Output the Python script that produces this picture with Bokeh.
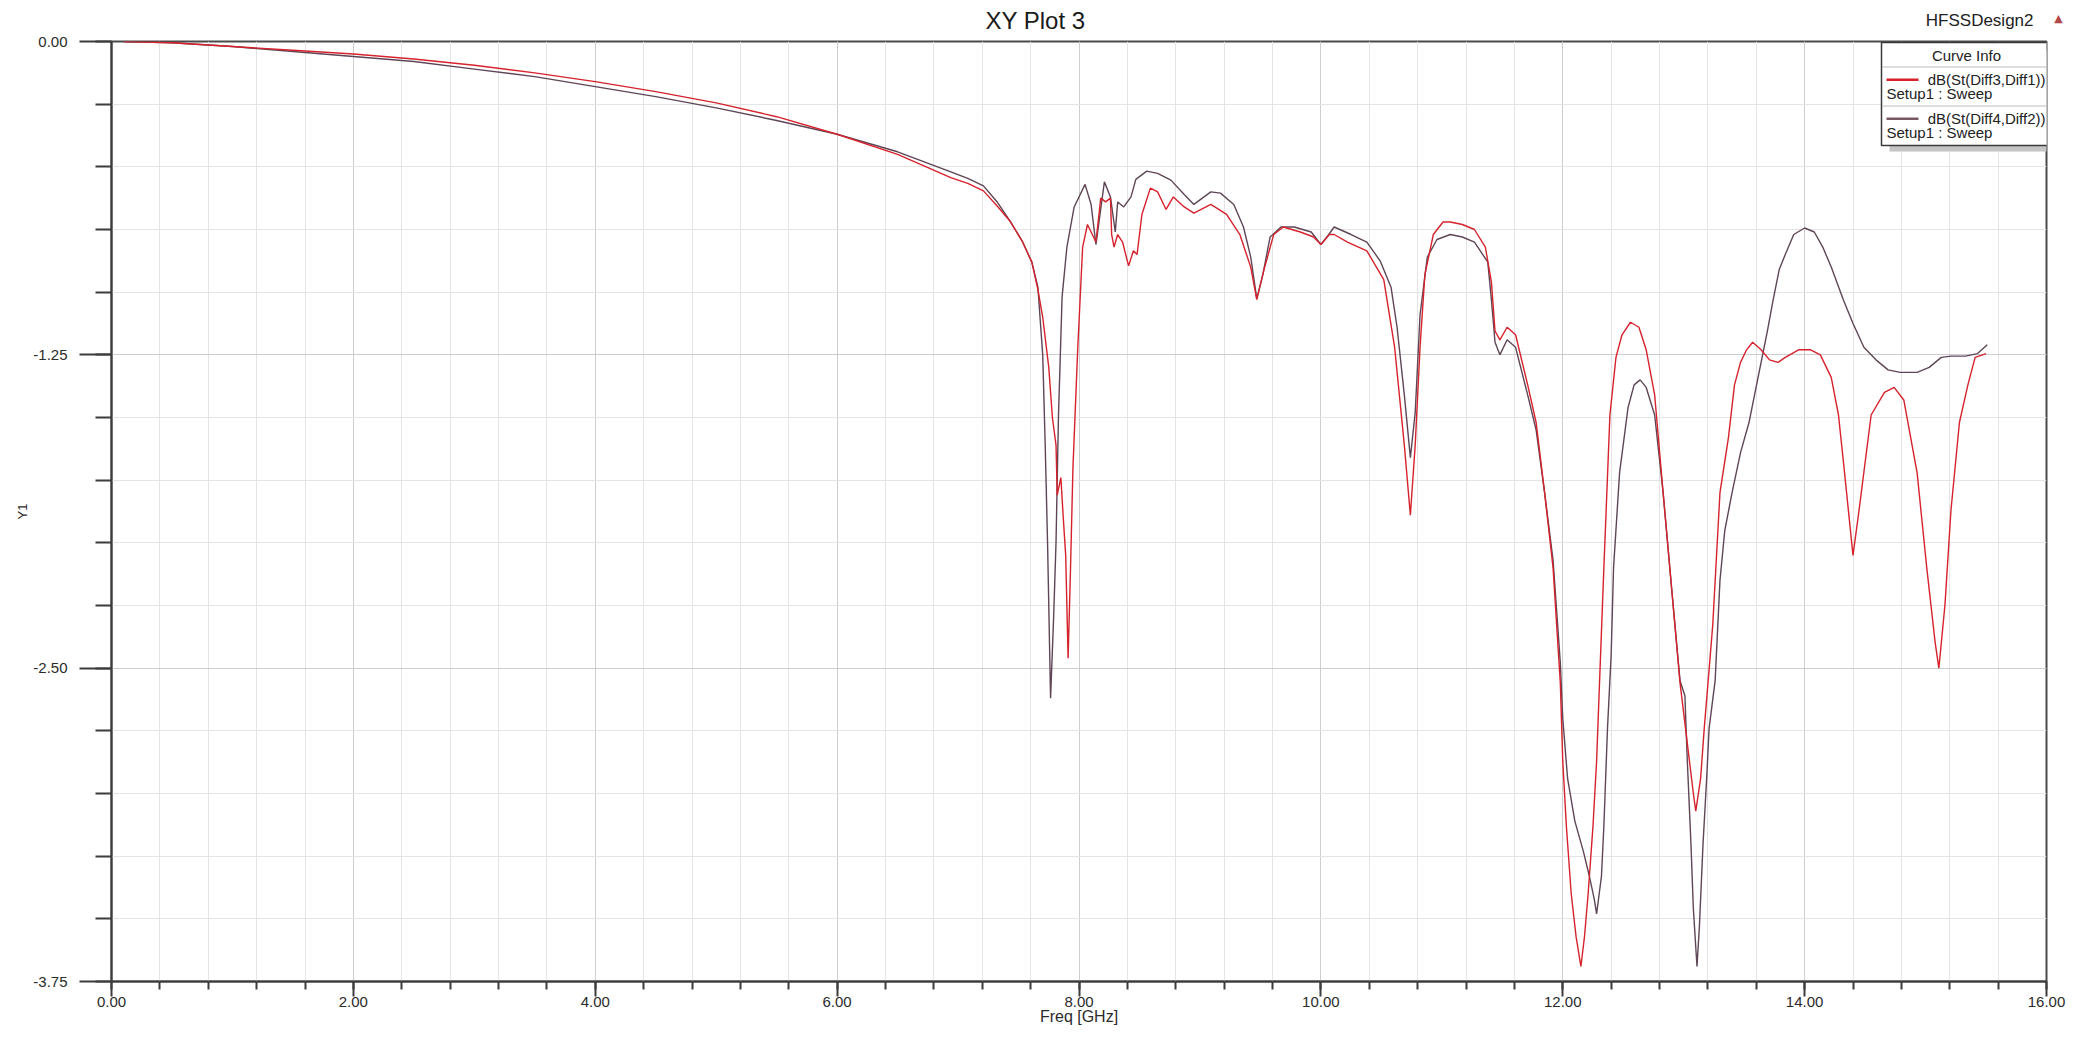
import math
from bokeh.plotting import figure
from bokeh.models import Range1d, FixedTicker, PrintfTickFormatter, Label, BoxAnnotation, Title
from bokeh.embed import file_html
from bokeh.resources import INLINE

# ---------------- data ----------------
freq_31 = [0.10, 0.5, 1.0, 1.5, 2.0, 2.5, 3.0, 3.5, 4.0, 4.5, 5.0, 5.5, 6.0, 6.5, 6.94,
           7.08, 7.21, 7.32, 7.43, 7.53, 7.61, 7.66, 7.70, 7.75, 7.78, 7.81, 7.82, 7.85,
           7.87, 7.89, 7.91, 7.93, 7.95, 7.99, 8.03, 8.07, 8.11, 8.14, 8.18, 8.22, 8.26,
           8.27, 8.29, 8.32, 8.36, 8.41, 8.45, 8.48, 8.52, 8.59, 8.65, 8.72, 8.78, 8.87,
           8.95, 9.09, 9.22, 9.33, 9.42, 9.47, 9.53, 9.61, 9.69, 9.83, 9.94, 10.0, 10.07,
           10.11, 10.22, 10.38, 10.52, 10.61, 10.69, 10.74, 10.78, 10.82, 10.86, 10.93,
           11.01, 11.07, 11.17, 11.27, 11.36, 11.41, 11.44, 11.48, 11.54, 11.61, 11.71,
           11.78, 11.85, 11.92, 11.98, 12.0, 12.03, 12.07, 12.11, 12.15, 12.18, 12.21,
           12.25, 12.28, 12.30, 12.34, 12.39, 12.44, 12.49, 12.56, 12.63, 12.69, 12.76,
           12.83, 12.90, 12.97, 13.03, 13.08, 13.10, 13.14, 13.17, 13.24, 13.30, 13.37,
           13.42, 13.47, 13.52, 13.57, 13.64, 13.71, 13.78, 13.84, 13.95, 14.05, 14.13,
           14.22, 14.28, 14.33, 14.40, 14.45, 14.55, 14.66, 14.74, 14.82, 14.93, 15.01,
           15.08, 15.11, 15.16, 15.21, 15.28, 15.35, 15.41, 15.50]
db_31 = [0.0, -0.005, -0.02, -0.035, -0.05, -0.07, -0.095, -0.125, -0.16, -0.20, -0.245,
         -0.30, -0.37, -0.45, -0.543, -0.566, -0.596, -0.654, -0.717, -0.796, -0.88,
         -0.99, -1.10, -1.30, -1.50, -1.61, -1.81, -1.74, -1.90, -2.05, -2.46, -2.10,
         -1.70, -1.22, -0.82, -0.73, -0.77, -0.80, -0.625, -0.64, -0.625, -0.77, -0.82,
         -0.77, -0.80, -0.895, -0.835, -0.85, -0.69, -0.585, -0.60, -0.67, -0.62, -0.66,
         -0.685, -0.65, -0.69, -0.77, -0.90, -1.03, -0.91, -0.77, -0.74, -0.76, -0.78,
         -0.81, -0.77, -0.77, -0.80, -0.835, -0.95, -1.22, -1.61, -1.89, -1.61, -1.22,
         -0.93, -0.77, -0.72, -0.72, -0.73, -0.75, -0.82, -0.96, -1.155, -1.19, -1.14,
         -1.17, -1.37, -1.52, -1.80, -2.10, -2.56, -2.87, -3.13, -3.40, -3.57, -3.69,
         -3.57, -3.40, -3.13, -2.87, -2.61, -2.10, -1.49, -1.26, -1.17, -1.12, -1.14,
         -1.23, -1.41, -1.80, -2.18, -2.56, -2.80, -3.0, -3.07, -2.94, -2.74, -2.33,
         -1.80, -1.58, -1.37, -1.28, -1.23, -1.20, -1.23, -1.27, -1.28, -1.26, -1.23,
         -1.23, -1.25, -1.34, -1.49, -1.72, -2.05, -1.87, -1.49, -1.40, -1.38, -1.43,
         -1.72, -2.10, -2.40, -2.50, -2.25, -1.87, -1.52, -1.37, -1.26, -1.245]

freq_42 = [0.10, 0.5, 1.0, 1.5, 2.0, 2.5, 3.0, 3.5, 4.0, 4.5, 5.0, 5.5, 6.0, 6.5, 6.94,
           7.08, 7.21, 7.32, 7.43, 7.53, 7.61, 7.66, 7.70, 7.72, 7.74, 7.765, 7.79, 7.81,
           7.83, 7.86, 7.90, 7.96, 8.05, 8.10, 8.14, 8.21, 8.26, 8.30, 8.32, 8.37, 8.43,
           8.47, 8.56, 8.65, 8.76, 8.87, 8.95, 9.09, 9.17, 9.28, 9.36, 9.42, 9.47, 9.52,
           9.58, 9.67, 9.78, 9.92, 10.0, 10.05, 10.11, 10.25, 10.38, 10.49, 10.58, 10.63,
           10.69, 10.74, 10.78, 10.82, 10.88, 10.96, 11.07, 11.17, 11.27, 11.38, 11.41,
           11.44, 11.48, 11.54, 11.61, 11.71, 11.78, 11.85, 11.92, 11.98, 12.0, 12.04,
           12.10, 12.17, 12.22, 12.26, 12.28, 12.32, 12.34, 12.37, 12.40, 12.42, 12.47,
           12.54, 12.59, 12.64, 12.69, 12.76, 12.83, 12.90, 12.97, 13.01, 13.03, 13.06,
           13.08, 13.11, 13.13, 13.16, 13.19, 13.21, 13.26, 13.30, 13.34, 13.40, 13.47,
           13.54, 13.59, 13.64, 13.69, 13.74, 13.79, 13.84, 13.91, 14.0, 14.08, 14.15,
           14.22, 14.32, 14.40, 14.49, 14.59, 14.69, 14.79, 14.93, 15.03, 15.13, 15.21,
           15.33, 15.43, 15.51]
db_42 = [0.0, -0.005, -0.02, -0.04, -0.06, -0.08, -0.11, -0.14, -0.18, -0.22, -0.265,
         -0.315, -0.37, -0.44, -0.52, -0.546, -0.576, -0.638, -0.717, -0.796, -0.88,
         -0.98, -1.25, -1.60, -2.0, -2.62, -2.30, -2.0, -1.50, -1.02, -0.82, -0.66, -0.57,
         -0.65, -0.81, -0.56, -0.62, -0.76, -0.64, -0.66, -0.62, -0.55, -0.517, -0.526,
         -0.553, -0.61, -0.65, -0.60, -0.605, -0.65, -0.74, -0.86, -1.026, -0.93, -0.78,
         -0.74, -0.74, -0.76, -0.81, -0.78, -0.74, -0.77, -0.80, -0.875, -0.98, -1.14,
         -1.41, -1.66, -1.48, -1.09, -0.86, -0.79, -0.77, -0.78, -0.80, -0.88, -1.03,
         -1.20, -1.25, -1.19, -1.22, -1.41, -1.55, -1.80, -2.07, -2.48, -2.70, -2.94,
         -3.11, -3.23, -3.33, -3.42, -3.48, -3.33, -3.13, -2.74, -2.45, -2.10, -1.72,
         -1.46, -1.37, -1.35, -1.38, -1.49, -1.80, -2.18, -2.55, -2.61, -2.87, -3.20,
         -3.46, -3.69, -3.53, -3.20, -2.94, -2.74, -2.55, -2.15, -1.95, -1.80, -1.64,
         -1.52, -1.40, -1.28, -1.16, -1.03, -0.91, -0.85, -0.77, -0.744, -0.76, -0.82,
         -0.90, -1.03, -1.125, -1.22, -1.27, -1.31, -1.32, -1.32, -1.30, -1.26, -1.255,
         -1.255, -1.245, -1.21]

x_major_ticks = [0, 2, 4, 6, 8, 10, 12, 14, 16]
x_minor_ticks = [round(0.4 * i, 2) for i in range(41)]
y_major_ticks = [0.0, -1.25, -2.5, -3.75]
y_minor_ticks = [round(-0.25 * i, 2) for i in range(16)]

series_names = ["dB(St(Diff3,Diff1))", "dB(St(Diff4,Diff2))"]
setup_name = "Setup1 : Sweep"

RED = "#d6222c"
DARK = "#5e4656"
FONT = "Liberation Sans"

# ---------------- figure ----------------
W, H = 2075, 1029
BL, BR, BT, BB = 111, 29, 41, 48
p = figure(width=W, height=H, x_range=Range1d(0, 16), y_range=Range1d(-3.75, 0),
           output_backend="svg", toolbar_location=None,
           min_border_left=BL, min_border_right=BR, min_border_top=BT, min_border_bottom=BB)
p.background_fill_color = "white"
p.border_fill_color = "white"
p.outline_line_color = "#4a4a4a"
p.outline_line_width = 2

p.title = Title(text="XY Plot 3", align="left", offset=874, standoff=-22,
                vertical_align="bottom", text_font=FONT, text_font_size="24px",
                text_font_style="normal", text_color="#1a1a1a")

for ax, major, minor, tout, mout, standoff in (
        (p.xaxis[0], x_major_ticks, x_minor_ticks, 15, 8, 0),
        (p.yaxis[0], y_major_ticks, y_minor_ticks, 32, 16, 12)):
    ax.ticker = FixedTicker(ticks=major, minor_ticks=minor)
    ax.formatter = PrintfTickFormatter(format="%.2f")
    ax.major_tick_out = tout
    ax.major_tick_in = 0
    ax.minor_tick_out = mout
    ax.minor_tick_in = 0
    ax.major_label_standoff = standoff
    ax.axis_line_color = "#3c3c3c"
    ax.axis_line_width = 2
    ax.major_tick_line_color = "#3c3c3c"
    ax.major_tick_line_width = 2
    ax.minor_tick_line_color = "#3c3c3c"
    ax.minor_tick_line_width = 2
    ax.major_label_text_font = FONT
    ax.major_label_text_font_size = "15px"
    ax.major_label_text_color = "#2b2b2b"
    ax.axis_label_text_font = FONT
    ax.axis_label_text_font_style = "normal"
    ax.axis_label_text_color = "#2b2b2b"

p.xaxis[0].axis_label = "Freq [GHz]"
p.xaxis[0].axis_label_text_font_size = "16px"
p.xaxis[0].axis_label_standoff = -2
p.yaxis[0].axis_label = "Y1"
p.yaxis[0].axis_label_text_font_size = "13px"
p.yaxis[0].axis_label_standoff = 0

for g in (p.xgrid[0], p.ygrid[0]):
    g.grid_line_color = "#cdcdcd"
    g.grid_line_width = 1
    g.minor_grid_line_color = "#e4e4e4"
    g.minor_grid_line_width = 1

p.line(freq_42, db_42, line_color=DARK, line_width=1.4)
p.line(freq_31, db_31, line_color=RED, line_width=1.4)

# ---------------- placement helpers: page pixel -> data coordinates ----------------
PX_PER_GHZ = (W - BL - BR) / 16.0
PX_PER_DB = (H - BT - BB) / 3.75


def dx(px):
    return (px - BL) / PX_PER_GHZ


def dy(py):
    return -(py - BT) / PX_PER_DB


def make_label(px, py, text, size, color="#222222", align="left", font=FONT):
    return Label(x=dx(px), y=dy(py), text=text, text_font=font, text_font_size=size,
                 text_color=color, text_align=align, text_baseline="middle")


def box(l, t, r, b, fill, line=None, lw=1.0):
    p.add_layout(BoxAnnotation(left=dx(l), right=dx(r), top=dy(t), bottom=dy(b),
                               fill_color=fill, fill_alpha=1.0,
                               line_color=line, line_width=lw, line_alpha=1.0 if line else 0.0))


# header texts at top right (in side panels so they are not clipped by the frame)
p.add_layout(make_label(2033, 20, "HFSSDesign2", "17px", align="right"), "above")
p.add_layout(make_label(2058, 18, "\u25b2", "11px", color="#b24646", align="center",
                        font="DejaVu Sans"), "right")

# legend (Curve Info)
box(1889, 50, 2060, 151, "#c4c4c4")
box(1881, 42, 2051, 145, "white", line="#3a3a3a", lw=1.5)
box(1882, 66, 2050, 67, "#bdbdbd")
box(1882, 105, 2050, 106, "#bdbdbd")
box(1886, 78, 1918, 80.5, RED)
box(1886, 117, 1918, 119.5, "#7a5862")
p.add_layout(make_label(1966, 55, "Curve Info", "15px", align="center"))
p.add_layout(make_label(2045, 79, series_names[0], "15px", align="right"))
p.add_layout(make_label(1886, 93, setup_name, "15px"))
p.add_layout(make_label(2045, 118, series_names[1], "15px", align="right"))
p.add_layout(make_label(1886, 132, setup_name, "15px"))

open("out.html", "w").write(file_html(p, INLINE))
